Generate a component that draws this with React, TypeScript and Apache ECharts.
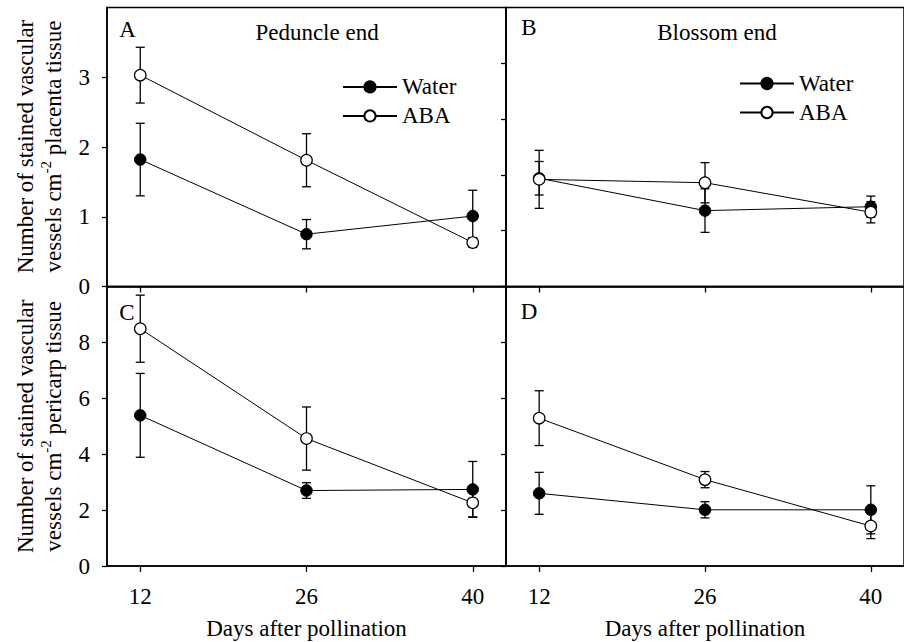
import React, { useEffect, useRef } from "react";
import * as echarts from "echarts";

const FONT = "Liberation Serif, Times New Roman, serif";

const days = [12, 26, 40];
const xTicks = [12, 26, 40];

// Panel A – peduncle end, placenta tissue
const aWater = [1.82, 0.75, 1.01];
const aWaterErr = [0.52, 0.21, 0.37];
const aABA = [3.03, 1.81, 0.63];
const aABAErr = [0.4, 0.38, 0.07];

// Panel B – blossom end, placenta tissue
const bWater = [1.94, 1.36, 1.43];
const bWaterErr = [0.3, 0.39, 0.19];
const bABA = [1.92, 1.86, 1.33];
const bABAErr = [0.52, 0.36, 0.19];

// Panel C – peduncle end, pericarp tissue
const cWater = [5.39, 2.7, 2.74];
const cWaterErr = [1.5, 0.28, 1.0];
const cABA = [8.49, 4.56, 2.26];
const cABAErr = [1.2, 1.13, 0.5];

// Panel D – blossom end, pericarp tissue
const dWater = [2.6, 2.01, 2.01];
const dWaterErr = [0.75, 0.29, 0.86];
const dABA = [5.29, 3.09, 1.43];
const dABAErr = [0.98, 0.29, 0.45];

const yMax = [4, 5, 10, 10];
const yTicks = [
  [0, 1, 2, 3],
  [0, 1, 2, 3, 4],
  [0, 2, 4, 6, 8],
  [0, 2, 4, 6, 8],
];

const panels = [
  { water: aWater, waterErr: aWaterErr, aba: aABA, abaErr: aABAErr },
  { water: bWater, waterErr: bWaterErr, aba: bABA, abaErr: bABAErr },
  { water: cWater, waterErr: cWaterErr, aba: cABA, abaErr: cABAErr },
  { water: dWater, waterErr: dWaterErr, aba: dABA, abaErr: dABAErr },
];

const grids = [
  { left: 107, top: 7.5, width: 399, height: 279 },
  { left: 506, top: 7.5, width: 400, height: 279 },
  { left: 107, top: 286.5, width: 399, height: 279.5 },
  { left: 506, top: 286.5, width: 400, height: 279.5 },
];

function errorSeries(idx: number, name: string, mean: number[], err: number[]) {
  return {
    type: "custom",
    name: name + " err",
    xAxisIndex: idx,
    yAxisIndex: idx,
    z: 1,
    silent: true,
    encode: { x: 0, y: [1, 2] },
    data: days.map((d, i) => [d, mean[i] - err[i], mean[i] + err[i]]),
    renderItem: (params: any, api: any) => {
      const x = api.value(0);
      const lo = api.value(1);
      const hi = api.value(2);
      const p1 = api.coord([x, hi]);
      const p2 = api.coord([x, lo]);
      const hw = 4.5;
      const st = { stroke: "#000", lineWidth: 1.3 };
      return {
        type: "group",
        children: [
          { type: "line", shape: { x1: p1[0], y1: p1[1], x2: p2[0], y2: p2[1] }, style: st },
          { type: "line", shape: { x1: p1[0] - hw, y1: p1[1], x2: p1[0] + hw, y2: p1[1] }, style: st },
          { type: "line", shape: { x1: p2[0] - hw, y1: p2[1], x2: p2[0] + hw, y2: p2[1] }, style: st },
        ],
      };
    },
  };
}

function lineSeries(idx: number, name: string, mean: number[], filled: boolean) {
  return {
    type: "line",
    name,
    xAxisIndex: idx,
    yAxisIndex: idx,
    z: 3,
    data: days.map((d, i) => [d, mean[i]]),
    symbol: "circle",
    symbolSize: 11.5,
    lineStyle: { color: "#000", width: 1 },
    itemStyle: filled
      ? { color: "#000", borderColor: "#000", borderWidth: 1 }
      : { color: "#fff", borderColor: "#000", borderWidth: 1.2 },
  };
}

export default function App() {
  const ref = useRef<HTMLDivElement>(null);
  useEffect(() => {
    if (!ref.current) return;
    const chart = echarts.init(ref.current, null, { renderer: "svg" });

    const series: any[] = [];
    panels.forEach((p, i) => {
      series.push(errorSeries(i, "Water", p.water, p.waterErr));
      series.push(errorSeries(i, "ABA", p.aba, p.abaErr));
      series.push(lineSeries(i, "Water", p.water, true));
      series.push(lineSeries(i, "ABA", p.aba, false));
    });

    const axisLine = { show: true, onZero: false, lineStyle: { color: "#000", width: 1.5 } };

    const xAxis = grids.map((_, i) => ({
      gridIndex: i,
      type: "value",
      min: 9.2,
      max: 42.8,
      axisLine,
      axisTick: { show: true, length: 6, customValues: xTicks, lineStyle: { color: "#000", width: 1.3 } },
      axisLabel: {
        show: i >= 2,
        customValues: xTicks,
        margin: 19,
        fontSize: 23,
        color: "#000",
        fontFamily: FONT,
      },
      splitLine: { show: false },
      name: i >= 2 ? "Days after pollination" : "",
      nameLocation: "middle",
      nameGap: 51,
      nameTextStyle: { fontSize: 23, color: "#000", fontFamily: FONT },
    }));

    const yAxis = grids.map((_, i) => ({
      gridIndex: i,
      type: "value",
      min: 0,
      max: yMax[i],
      axisLine,
      axisTick: { show: true, length: 5, customValues: yTicks[i], lineStyle: { color: "#000", width: 1.3 } },
      axisLabel: {
        show: i === 0 || i === 2,
        customValues: yTicks[i],
        margin: 17,
        fontSize: 23,
        color: "#000",
        fontFamily: FONT,
      },
      splitLine: { show: false },
    }));

    const txt = (text: string, x: number, y: number, align = "center") => ({
      type: "text",
      x,
      y,
      style: { text, fontSize: 23, fontFamily: FONT, fill: "#000", align, verticalAlign: "middle" },
    });

    const yTitle = (line1: string, pre: string, post: string, cy: number) => [
      {
        type: "text",
        x: 25,
        y: cy,
        rotation: Math.PI / 2,
        style: { text: line1, fontSize: 23, fontFamily: FONT, fill: "#000", align: "center", verticalAlign: "middle" },
      },
      {
        type: "text",
        x: 53,
        y: cy,
        rotation: Math.PI / 2,
        style: {
          text: `{n|${pre}}{s|-2}{n|${post}}`,
          fontSize: 23,
          fontFamily: FONT,
          fill: "#000",
          align: "center",
          verticalAlign: "middle",
          rich: {
            n: { fontSize: 23, fontFamily: FONT, fill: "#000", lineHeight: 30, verticalAlign: "middle" },
            s: { fontSize: 15, fontFamily: FONT, fill: "#000", lineHeight: 24, verticalAlign: "top" },
          },
        },
      },
    ];

    const legendBase = {
      orient: "vertical",
      data: ["Water", "ABA"],
      itemWidth: 54,
      itemHeight: 14,
      itemGap: 6,
      padding: 0,
      selectedMode: false,
      textStyle: { fontSize: 23, fontFamily: FONT, color: "#000" },
    };

    chart.setOption({
      animation: false,
      backgroundColor: "#fff",
      textStyle: { fontFamily: FONT },
      grid: grids.map((g) => ({ ...g, show: true, borderColor: "#000", borderWidth: 1.5, backgroundColor: "transparent" })),
      xAxis,
      yAxis,
      legend: [
        { ...legendBase, left: 342, top: 75.4 },
        { ...legendBase, left: 739, top: 72 },
      ],
      series,
      graphic: [
        txt("A", 127.5, 29.2),
        txt("Peduncle end", 317, 32.5),
        txt("B", 529, 27.5),
        txt("Blossom end", 717, 32.5),
        txt("C", 127, 312.5),
        txt("D", 529, 311.3),
        ...yTitle("Number of stained vascular", "vessels cm", " placenta tissue", 146.5),
        ...yTitle("Number of stained vascular", "vessels cm", " pericarp tissue", 426.3),
      ],
    });

    return () => chart.dispose();
  }, []);

  return (
    <div
      ref={ref}
      style={{ position: "fixed", left: 0, top: 0, width: 904, height: 642, background: "#fff" }}
    />
  );
}
